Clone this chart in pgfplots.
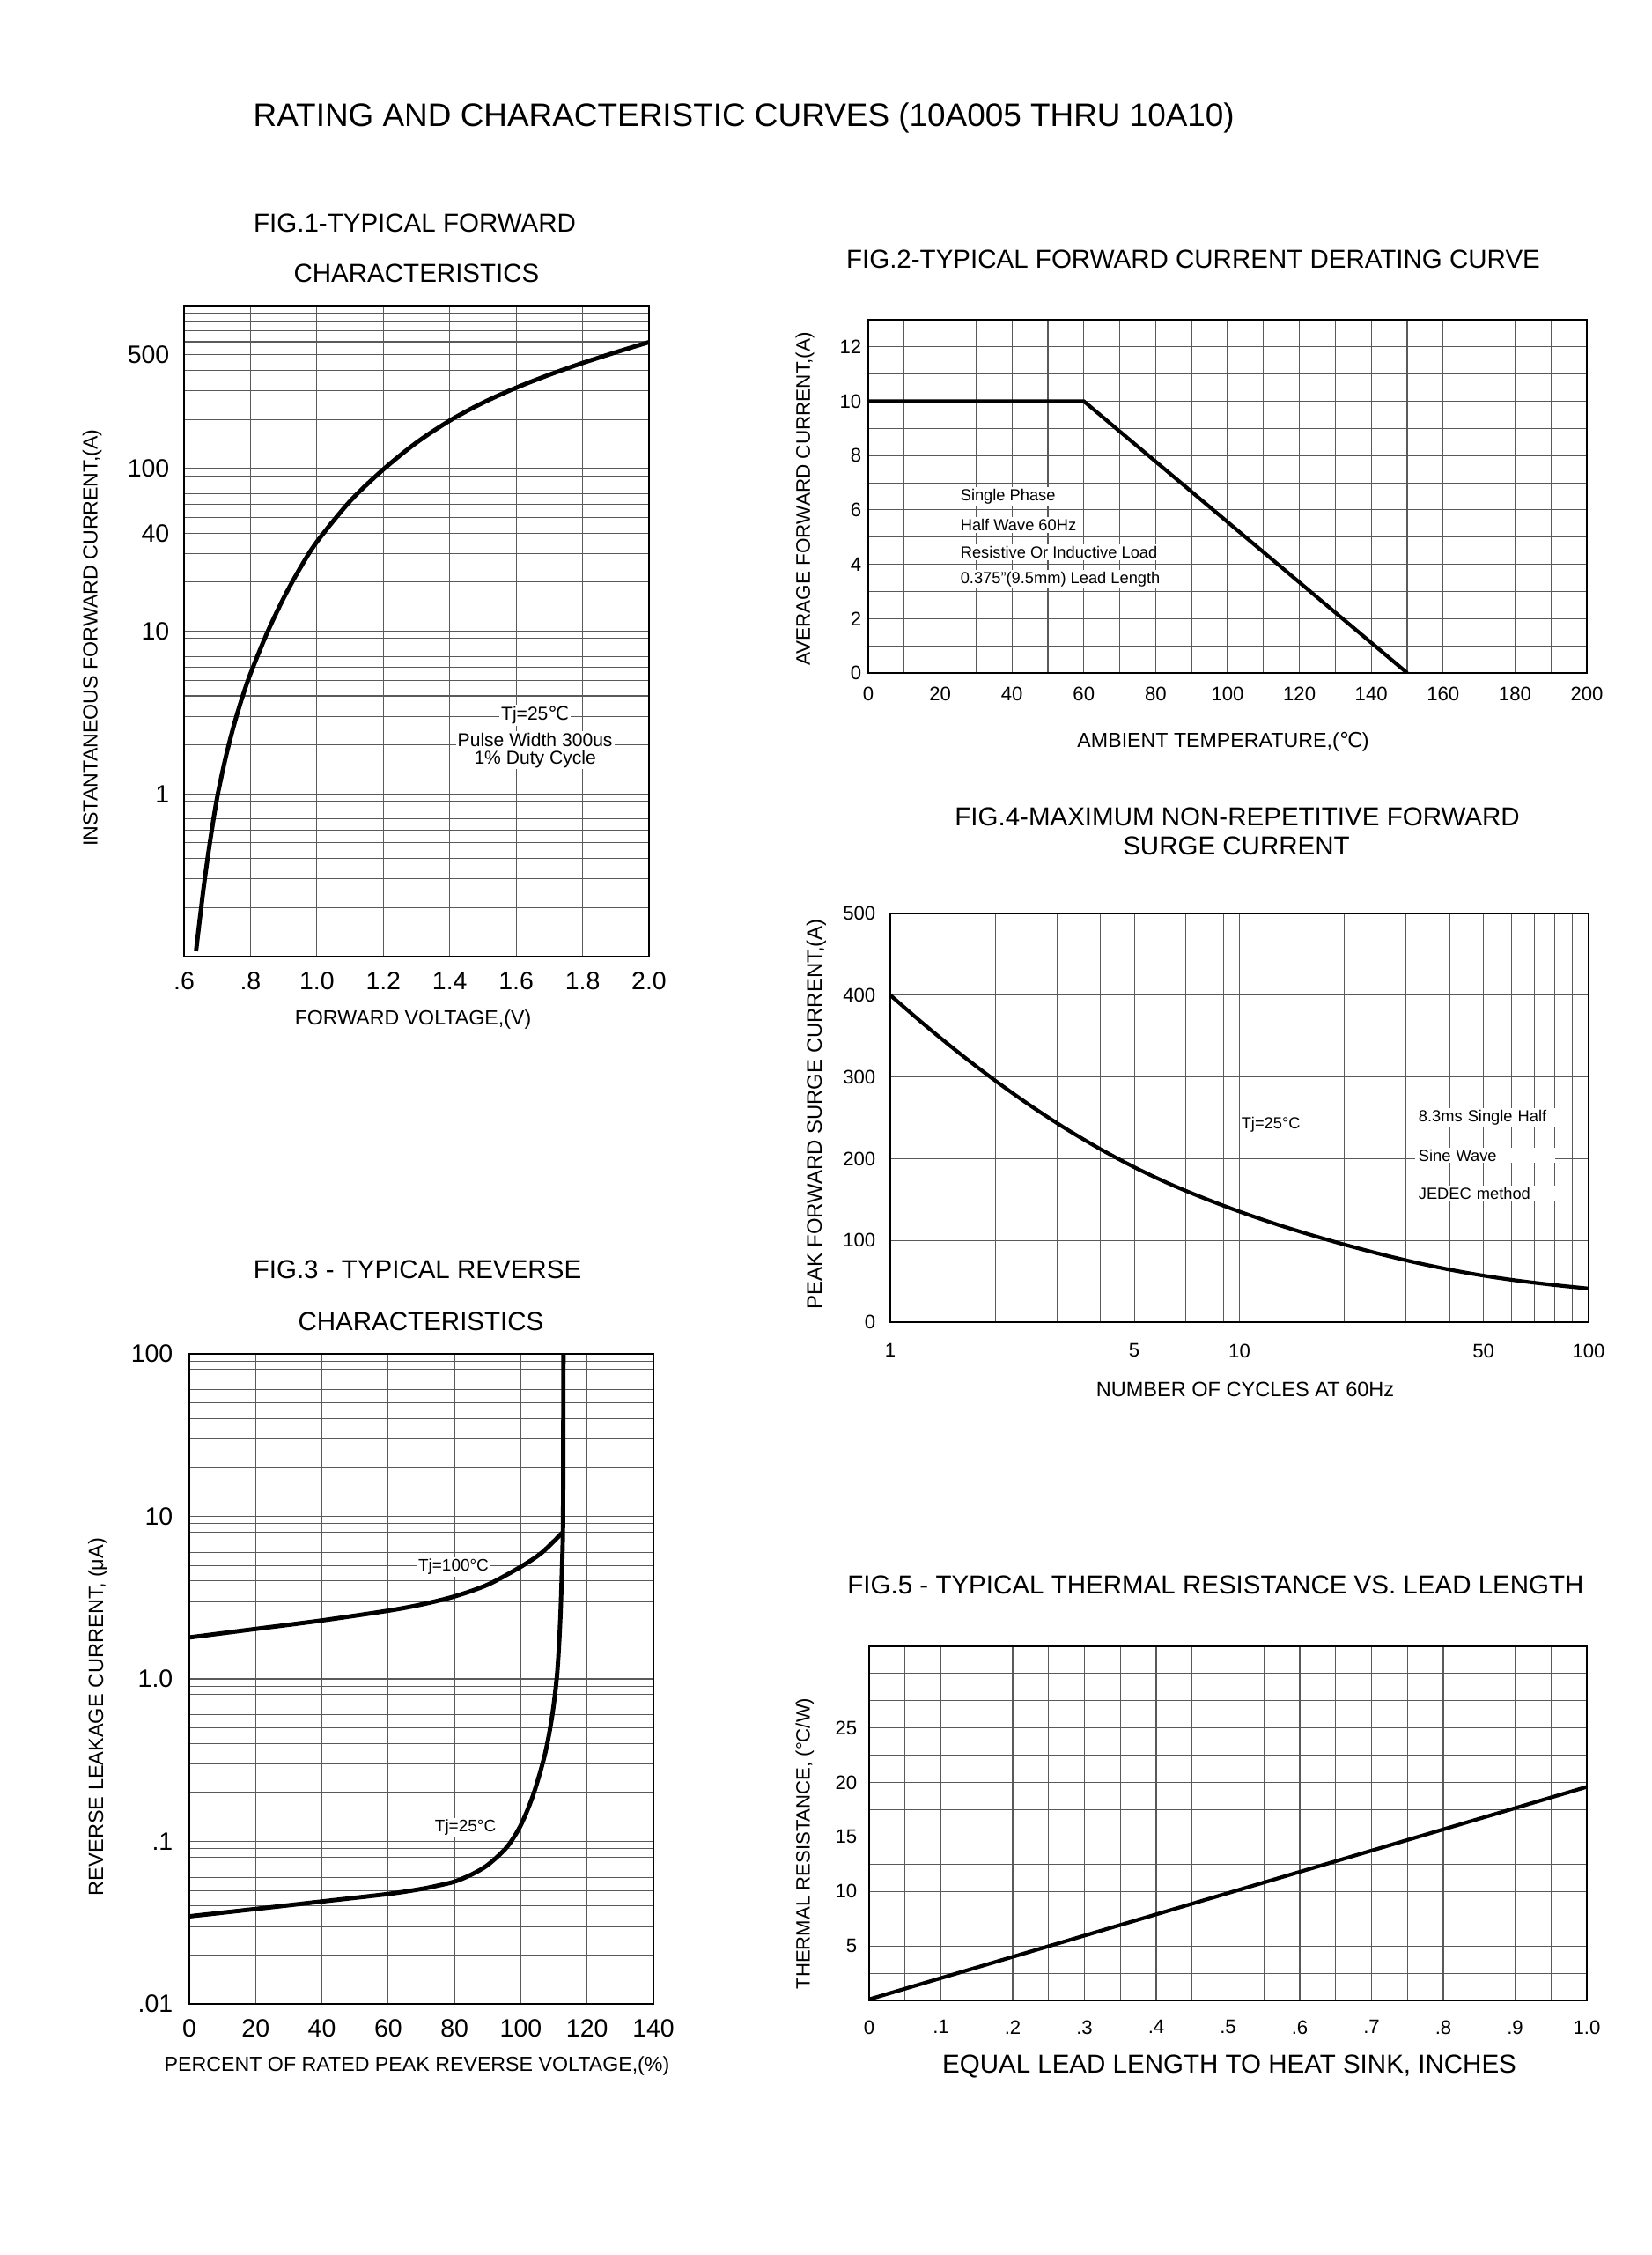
\documentclass[border=0pt]{standalone}
\usepackage{fontspec}
\setmainfont{Liberation Sans}
\newfontfamily\dejavu{DejaVu Sans}
\usepackage{pgfplots}
\pgfplotsset{compat=1.18}

\newcommand\fs[1]{\fontsize{#1pt}{#1pt}\selectfont}
\newcommand\degC{{\dejavu ℃}}

\pgfplotsset{
  sheet/.style={
    scale only axis, anchor=south west,
    enlargelimits=false,
    axis line style={line width=0.8pt},
    grid=both,
    major grid style={line width=0.3pt, black!65},
    minor grid style={line width=0.3pt, black!65},
    major tick length=0pt, minor tick length=0pt,
    tick label style={inner sep=0pt},
    /pgf/number format/assume math mode=true,
  },
}
\tikzset{
  curve/.style={line width=1.4pt, black},
  note/.style={fill=white, inner sep=0.6pt},
}

\begin{document}
\begin{tikzpicture}
\useasboundingbox (0,0) rectangle (187.6mm,256mm);

% page title
\node[anchor=west, inner sep=0pt, font=\fs{10.5}] at (28.7mm,242.6mm) {RATING AND CHARACTERISTIC CURVES (10A005 THRU 10A10)};

% ---------- FIG.1 ----------
\node[font=\fs{8.4}] at (47.1mm,230.7mm) {FIG.1-TYPICAL FORWARD};
\node[font=\fs{8.4}] at (47.3mm,225.0mm) {CHARACTERISTICS};
\node[font=\fs{6.6}] at (46.9mm,140.2mm) {FORWARD VOLTAGE,(V)};
\node[font=\fs{6.6}, rotate=90] at (10.45mm,183.6mm) {INSTANTANEOUS FORWARD CURRENT,(A)};
\begin{axis}[sheet, at={(20.9mm,147.4mm)}, width=52.8mm, height=73.9mm,
  xmin=0.6, xmax=2.0, ymode=log, ymin=0.1, ymax=1000,
  xtick={0.6,0.8,1.0,1.2,1.4,1.6,1.8,2.0},
  xticklabels={.6,.8,1.0,1.2,1.4,1.6,1.8,2.0},
  ytick={1,10,40,100,500}, yticklabels={1,10,40,100,500},
  minor ytick={0.2,0.3,0.4,0.5,0.6,0.7,0.8,0.9,2,3,4,5,6,7,8,9,20,30,50,60,70,80,90,200,300,400,600,700,800,900},
  tick label style={font=\fs{8.1}},
  xticklabel shift=1.7mm, yticklabel shift=1.6mm]
\addplot[curve, smooth] coordinates {
  (0.636,0.108) (0.66,0.276) (0.68,0.538) (0.70,0.957) (0.725,1.663)
  (0.75,2.636) (0.775,3.90) (0.80,5.48) (0.85,9.74) (0.90,15.98)
  (0.95,24.5) (1.0,35.4) (1.1,62.9) (1.2,98.5) (1.3,144.1) (1.4,196.6)
  (1.5,253.3) (1.6,313.0) (1.7,376.3) (1.8,444.1) (1.9,517.0) (2.0,596.4)
};
\node[note, font=\fs{6}] at (axis cs:1.657,3.05) {Tj=25\degC};
\node[note, font=\fs{6}] at (axis cs:1.657,2.14) {Pulse Width 300us};
\node[note, font=\fs{6}] at (axis cs:1.657,1.64) {1\% Duty Cycle};
\end{axis}

% ---------- FIG.2 ----------
\node[font=\fs{8.4}] at (135.5mm,226.6mm) {FIG.2-TYPICAL FORWARD CURRENT DERATING CURVE};
\node[font=\fs{6.6}] at (138.9mm,171.75mm) {AMBIENT TEMPERATURE,(\degC)};
\node[font=\fs{6.4}, rotate=90] at (91.4mm,199.35mm) {AVERAGE FORWARD CURRENT,(A)};
\begin{axis}[sheet, at={(98.6mm,179.6mm)}, width=81.6mm, height=40.1mm,
  xmin=0, xmax=200, ymin=0, ymax=13,
  xtick={0,20,...,200}, minor xtick={10,30,...,190},
  ytick={0,2,...,12}, minor ytick={1,3,...,13},
  tick label style={font=\fs{6.3}},
  xticklabel shift=1.5mm, yticklabel shift=0.7mm]
\addplot[line width=1.2pt, black] coordinates {(0,10) (60,10) (150,0)};
\node[note, anchor=west, font=\fs{5.2}] at (axis cs:25,6.48) {Single Phase};
\node[note, anchor=west, font=\fs{5.2}] at (axis cs:25,5.45) {Half Wave 60Hz};
\node[note, anchor=west, font=\fs{5.2}] at (axis cs:25,4.44) {Resistive Or Inductive Load};
\node[note, anchor=west, font=\fs{5.2}] at (axis cs:25,3.45) {0.375"(9.5mm) Lead Length};
\end{axis}

% ---------- FIG.4 ----------
\node[font=\fs{8.4}] at (140.5mm,163.26mm) {FIG.4-MAXIMUM NON-REPETITIVE FORWARD};
\node[font=\fs{8.4}] at (140.4mm,160.0mm) {SURGE CURRENT};
\node[font=\fs{6.7}] at (141.4mm,98.3mm) {NUMBER OF CYCLES AT 60Hz};
\node[font=\fs{6.8}, rotate=90] at (92.7mm,129.5mm) {PEAK FORWARD SURGE CURRENT,(A)};
\begin{axis}[sheet, at={(101.1mm,105.9mm)}, width=79.3mm, height=46.4mm,
  xmode=log, xmin=1, xmax=100, ymin=0, ymax=500,
  xtick={1,5,10,50,100}, xticklabels={1,5,10,50,100},
  minor xtick={2,3,4,6,7,8,9,20,30,40,60,70,80,90},
  ytick={0,100,...,500},
  tick label style={font=\fs{6.3}},
  xticklabel shift=2.4mm, yticklabel shift=1.6mm]
\addplot[line width=1.2pt, black, smooth] coordinates {
  (1,400) (1.259,363.1) (1.585,328.3) (1.995,295.7) (2.512,265.3)
  (3.162,237.4) (3.981,212.1) (5.012,189.3) (6.31,169.1) (7.943,151.4)
  (10,135.3) (12.59,120.6) (15.85,107.3) (19.95,95.0) (25.12,83.7)
  (31.62,73.4) (39.81,64.4) (50.12,56.8) (63.1,50.6) (79.43,45.5) (100,41.1)
};
\node[note, font=\fs{5.2}] at (axis cs:12.3,241.5) {Tj=25°C};
\node[note, anchor=west, inner xsep=1pt, text width=15.2mm, font=\fs{5.2}] at (axis cs:31.8,250) {8.3ms Single Half};
\node[note, anchor=west, inner xsep=1pt, text width=15.2mm, font=\fs{5.2}] at (axis cs:31.8,204) {Sine Wave};
\node[note, anchor=west, inner xsep=1pt, text width=15.2mm, font=\fs{5.2}] at (axis cs:31.8,157.7) {JEDEC method};
\end{axis}

% ---------- FIG.3 ----------
\node[font=\fs{8.4}] at (47.4mm,111.83mm) {FIG.3 - TYPICAL REVERSE};
\node[font=\fs{8.4}] at (47.8mm,105.95mm) {CHARACTERISTICS};
\node[font=\fs{6.6}] at (47.35mm,21.4mm) {PERCENT OF RATED PEAK REVERSE VOLTAGE,(\%)};
\node[font=\fs{6.7}, rotate=90] at (11.1mm,61.1mm) {REVERSE LEAKAGE CURRENT, (μA)};
\begin{axis}[sheet, at={(21.5mm,28.5mm)}, width=52.7mm, height=73.8mm,
  xmin=0, xmax=140, ymode=log, ymin=0.01, ymax=100,
  xtick={0,20,...,140},
  ytick={0.01,0.1,1,10,100}, yticklabels={.01,.1,1.0,10,100},
  minor ytick={0.02,0.03,0.04,0.05,0.06,0.07,0.08,0.09,0.2,0.3,0.4,0.5,0.6,0.7,0.8,0.9,2,3,4,5,6,7,8,9,20,30,40,50,60,70,80,90},
  tick label style={font=\fs{8.1}},
  xticklabel shift=1.7mm, yticklabel shift=1.8mm]
% Tj = 100 C
\addplot[curve, smooth] coordinates {
  (0,1.80) (20,2.03) (40,2.29) (60,2.63) (70,2.87) (80,3.22)
  (90,3.8) (100,4.9) (106.4,6.0) (112.7,8.0)
};
% Tj = 25 C
\addplot[curve, smooth] coordinates {
  (0,0.0346) (20,0.0384) (40,0.0427) (60,0.0475) (70,0.051) (75,0.0535)
  (80,0.0566) (85,0.0624) (90,0.0716) (95.8,0.0923) (100,0.126)
  (103.8,0.195) (107.3,0.345) (109.5,0.60) (111,1.1) (111.9,2.3)
  (112.4,4.6) (112.7,8.0) (112.8,20) (112.85,100)
};
\node[note, font=\fs{5.4}] at (axis cs:79.7,4.9) {Tj=100°C};
\node[note, font=\fs{5.4}] at (axis cs:83.3,0.122) {Tj=25°C};
\end{axis}

% ---------- FIG.5 ----------
\node[font=\fs{8.4}] at (138.05mm,76.1mm) {FIG.5 - TYPICAL THERMAL RESISTANCE VS. LEAD LENGTH};
\node[font=\fs{8.4}] at (139.6mm,21.4mm) {EQUAL LEAD LENGTH TO HEAT SINK, INCHES};
\node[font=\fs{6.3}, rotate=90] at (91.4mm,46.7mm) {THERMAL RESISTANCE, (°C/W)};
\begin{axis}[sheet, at={(98.7mm,28.9mm)}, width=81.5mm, height=40.2mm,
  xmin=0, xmax=1.0, ymin=0, ymax=32.5,
  xtick={0,0.1,...,1.0}, xticklabels={0,.1,.2,.3,.4,.5,.6,.7,.8,.9,1.0},
  minor xtick={0.05,0.15,...,0.95},
  ytick={5,10,15,20,25}, minor ytick={2.5,7.5,12.5,17.5,22.5,27.5,30},
  tick label style={font=\fs{6.3}},
  xticklabel shift=2.2mm, yticklabel shift=1.3mm]
\addplot[line width=1.2pt, black] coordinates {(0,0.1) (1.0,19.6)};
\end{axis}

\end{tikzpicture}
\end{document}
